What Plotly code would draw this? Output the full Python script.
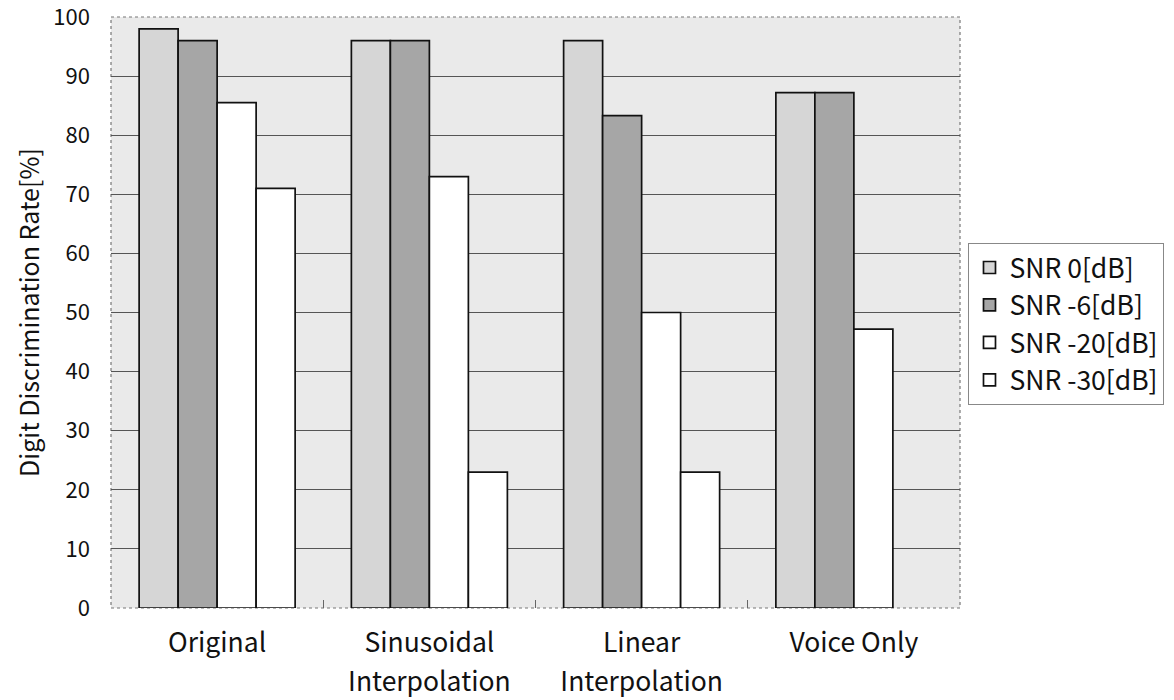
import plotly.graph_objects as go

# Methods on the x axis and SNR conditions as series
categories = ["Original", "Sinusoidal", "Linear", "Voice Only"]
category_second_line = ["", "Interpolation", "Interpolation", ""]
series_names = ["SNR 0[dB]", "SNR -6[dB]", "SNR -20[dB]", "SNR -30[dB]"]

snr_0 = [98, 96, 96, 87.2]
snr_m6 = [96, 96, 83.3, 87.2]
snr_m20 = [85.5, 73, 50, 47.2]
snr_m30 = [71, 23, 23, None]

y_ticks = [0, 10, 20, 30, 40, 50, 60, 70, 80, 90, 100]

fills = ["#d6d6d6", "#a6a6a6", "#ffffff", "#ffffff"]
FONT = "Noto Sans CJK JP, sans-serif"

fig = go.Figure()
for name, vals, col in zip(series_names, [snr_0, snr_m6, snr_m20, snr_m30], fills):
    fig.add_trace(go.Bar(
        x=categories, y=vals, name=name, legendgroup=name,
        marker=dict(color=col, line=dict(color="#111111", width=1.7)),
    ))

fig.update_layout(
    width=1174, height=700,
    barmode="group", bargap=0.265, bargroupgap=0,
    paper_bgcolor="white", plot_bgcolor="#eaeaea",
    margin=dict(l=111, r=214, t=17, b=92, autoexpand=False),
    font=dict(family=FONT, size=22, color="#111111"),
    legend=dict(
        x=1.01, y=0.618, xanchor="left", yanchor="top",
        bgcolor="white", bordercolor="#888888", borderwidth=1,
        font=dict(size=26.5), tracegroupgap=0, itemwidth=30,
    ),
    xaxis=dict(
        tickmode="array", tickvals=categories, ticktext=categories,
        ticks="inside", ticklen=8, tickcolor="#666666", tickson="boundaries",
        tickfont=dict(size=26.5), ticklabelstandoff=16, automargin=False,
        showgrid=False, showline=False, zeroline=False,
    ),
    # second line of the two-line category names
    xaxis2=dict(
        overlaying="x", anchor="y", side="bottom", type="linear",
        range=[-0.5, 3.5], tickmode="array", tickvals=[0, 1, 2, 3],
        ticktext=category_second_line, ticks="", automargin=False,
        tickfont=dict(size=26.5), ticklabelstandoff=55,
        showgrid=False, showline=False, zeroline=False,
    ),
    yaxis=dict(
        range=[0, 100], tickvals=y_ticks, ticks="", ticklabelstandoff=20,
        tickfont=dict(size=22), automargin=False, ticklabeloverflow="allow",
        showgrid=True, gridcolor="#555555", gridwidth=1,
        zeroline=False, showline=False,
        title=dict(text="Digit Discrimination Rate[%]", font=dict(size=25), standoff=6),
    ),
    shapes=[dict(
        type="rect", xref="paper", yref="paper", x0=0, x1=1, y0=0, y1=1,
        line=dict(color="#777777", width=1.2, dash="dot"), layer="below",
    )],
)

# invisible trace so the second x axis is drawn
fig.add_trace(go.Scatter(x=[0, 3], y=[0, 0], xaxis="x2", yaxis="y", mode="none",
                         showlegend=False, hoverinfo="skip"))

fig.write_html("out.html")
